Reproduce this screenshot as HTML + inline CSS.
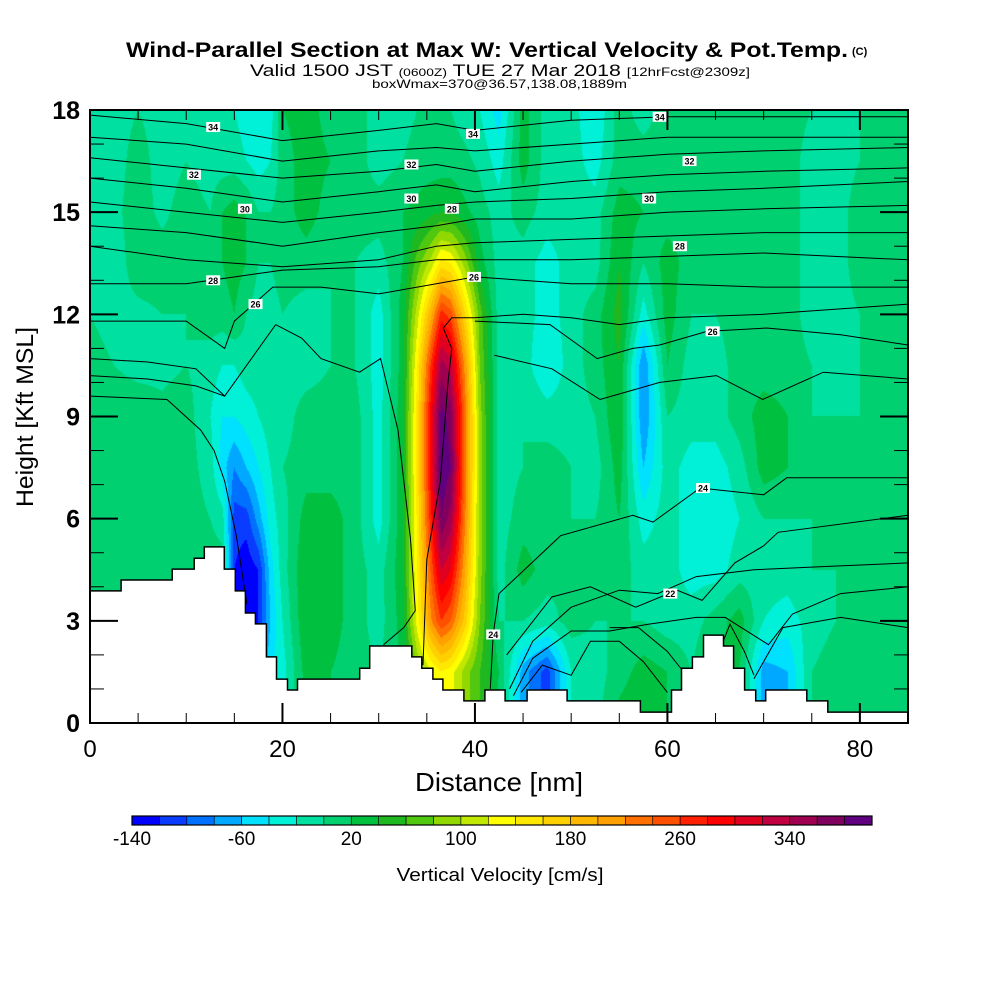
<!DOCTYPE html>
<html><head><meta charset="utf-8"><style>
html,body{margin:0;padding:0;background:#fff;}
#wrap{position:relative;width:1000px;height:1000px;overflow:hidden;background:#fff;}
#field{position:absolute;left:90px;top:110px;}
#ov{position:absolute;left:0;top:0;}
text{font-family:"Liberation Sans",sans-serif;}
</style></head><body>
<div id="wrap">
<canvas id="field" width="818" height="613"></canvas>
<svg id="ov" width="1000" height="1000">
<g>
<text x="126" y="57" font-size="21" font-weight="bold" textLength="722" lengthAdjust="spacingAndGlyphs">Wind-Parallel Section at Max W: Vertical Velocity &amp; Pot.Temp.</text>
<text x="852" y="55" font-size="11" font-weight="bold">(C)</text>
<text x="250" y="76" font-size="17" textLength="500" lengthAdjust="spacingAndGlyphs">Valid 1500 JST <tspan font-size="11">(0600Z)</tspan> TUE 27 Mar 2018 <tspan font-size="12">[12hrFcst@2309z]</tspan></text>
<text x="372" y="88" font-size="12" textLength="255" lengthAdjust="spacingAndGlyphs">boxWmax=370@36.57,138.08,1889m</text>
</g>
<g id="terrain"></g>
<g id="theta"></g>
<g id="labels"></g>
<rect x="90" y="110" width="818" height="613" fill="none" stroke="#000" stroke-width="2"/>
<g id="axes"></g>
<text transform="translate(33,417) rotate(-90)" text-anchor="middle" font-size="24" textLength="180" lengthAdjust="spacingAndGlyphs">Height [Kft MSL]</text>
<text x="499" y="791" text-anchor="middle" font-size="26" textLength="168" lengthAdjust="spacingAndGlyphs">Distance [nm]</text>
<g id="cbar"></g>
<text x="500" y="881" text-anchor="middle" font-size="18" textLength="207" lengthAdjust="spacingAndGlyphs">Vertical Velocity [cm/s]</text>
</svg>
</div>
<script>
// ---- data ----
const gridNm = [0,2.5,5,7.5,10,12.5,13.75,15,16.25,17.5,18.75,20,22.5,25,27.5,30,32.5,34,35.5,36.5,37.5,39,40.5,42.5,45,47.5,50,52.5,55,57.5,60,62.5,65,67.5,70,72.5,75,77.5,80,82.5,85];
const gridKft = [18,16.5,15,13.5,12,10.5,9,7.5,6,4.5,3,1.5,0];
// vertical velocity profiles (cm/s), one per gridNm column, top (18 kft) to bottom
const wCols = [
[-10,-10,-10,-10,0,5,10,10,10,10,10,10,10],
[-10,-10,-5,-10,-5,0,10,5,10,10,10,10,10],
[0,10,10,10,-5,-5,10,5,10,10,10,10,10],
[-10,-10,-5,10,0,-5,5,10,10,10,10,10,10],
[-10,0,10,10,0,0,10,10,10,10,10,10,10],
[-10,-10,0,10,10,-10,-20,-10,0,10,10,10,10],
[-10,-10,20,20,10,-20,-40,-50,-10,10,10,10,10],
[-20,-10,30,30,20,-20,-40,-80,-110,-120,-120,-120,-120],
[-30,-20,20,20,0,-10,-30,-60,-110,-135,-135,-135,-135],
[-40,-30,0,0,-10,-10,-20,-40,-70,-120,-120,-100,-100],
[-30,-20,0,0,-10,-10,-10,-20,-30,-50,-60,-40,-40],
[20,10,10,10,0,-10,-10,0,-10,-10,-20,-30,-30],
[30,30,30,10,-10,-10,10,10,30,40,40,30,30],
[10,20,10,0,0,0,10,10,30,30,30,20,20],
[10,10,10,0,0,0,10,10,10,10,10,10,10],
[-10,-10,10,-10,-30,-30,-30,-30,-30,-10,-10,0,0],
[-10,0,20,20,30,30,35,35,35,35,30,20,20],
[0,10,25,70,110,140,150,150,145,140,130,80,80],
[0,10,35,110,200,270,300,300,280,250,220,120,120],
[0,10,40,150,270,350,390,400,380,320,260,140,140],
[0,10,40,140,250,330,370,380,350,300,240,130,130],
[-10,5,25,90,160,210,230,230,220,200,170,90,90],
[-20,-5,10,30,70,80,90,90,90,90,80,60,60],
[-50,-30,-10,-10,-10,-10,-10,-10,-10,-10,0,20,10],
[30,30,10,-10,-10,-10,0,0,10,30,0,-70,-70],
[-10,-10,-10,-30,-30,-40,-10,10,10,10,-10,-110,-110],
[-10,-10,-10,-10,-10,-10,-10,0,0,0,10,-20,-20],
[-40,-30,-10,-10,10,10,0,-10,0,10,0,-10,-10],
[10,10,30,40,50,40,40,30,20,10,0,10,30],
[-10,10,20,0,-30,-80,-80,-60,-30,-10,0,30,40],
[10,10,10,30,30,20,0,-10,-10,-10,-10,20,20],
[0,0,10,10,0,-10,-10,-30,-30,-30,-10,0,0],
[0,0,10,10,0,-10,-10,-30,-35,-30,10,30,30],
[0,0,10,10,10,10,10,-10,-20,-10,30,20,20],
[10,10,10,10,10,10,30,30,0,-10,-20,-70,-70],
[10,10,10,10,10,10,20,20,0,-10,-30,-60,-60],
[0,-10,-10,-10,-10,0,0,0,0,0,-10,0,0],
[-10,-10,-10,-10,-10,-10,0,0,0,0,0,10,10],
[0,0,10,10,0,0,0,10,10,0,10,10,10],
[0,0,10,10,0,0,0,10,10,0,10,10,10],
[0,0,10,10,0,0,0,10,10,0,10,10,10]
];
const binColors = ["#0000ff","#0a3cff","#0070ff","#00a8ff","#00e0ff","#00f0d8","#00e0a0","#00d070","#00c040","#20b820","#50c810","#90d800","#c0e800","#ffff00","#ffe800","#ffd000","#ffb800","#ffa000","#ff7000","#ff5000","#ff2000","#ff0000","#e00020","#c00040","#a00050","#800060","#600080"];
const binMin = -140, binStep = 20;
const cbarTicks = [-140,-60,20,100,180,260,340];
// terrain: step start (nm) and height (kft)
const terrainNm = [0,3.23,8.54,10.83,11.88,13.96,15.10,16.15,17.19,18.33,19.38,20.52,21.56,28.02,29.06,33.44,34.48,35.63,36.67,38.85,41.04,43.13,45.42,49.58,57.19,60.42,61.46,62.60,63.75,65.83,66.88,68.02,69.17,70.21,74.48,76.67];
const terrainKft = [3.88,4.20,4.52,4.84,5.17,4.52,3.88,3.23,2.91,1.94,1.29,0.97,1.29,1.61,2.26,1.94,1.61,1.29,0.97,0.65,0.97,0.65,0.97,0.65,0.32,0.97,1.61,1.94,2.58,2.26,1.61,0.97,0.65,0.97,0.65,0.32];
// potential temperature contours
const F = [0,10,20,30,36,40,50,60,70,85];
const thetaNm = [F,F,F,F,F,F,F,F,
 [0,10,14,15,19,24,30,36,40,50,60,70,85],
 [36.7,37.6,40,45,50,55,60,70,85],
 [40,47.8,52.7,56.4,59.2,64.1,70.3,78,85],
 [42,48,53,59.2,65.1,69.9,76.2,85],
 [0,6,11,14,19.3,22,24,28,30.2,32,33.3,33.8,32.6,30.5],
 [0,6,11,13,14],
 [0,8,11.5,12.9,14,15.2,16.3],
 [36.7,37.6,37.2,36.4,35.0,34.6],
 [41.6,41.9,42.5,48.9,56.4,58.5,63.4,70,72.4,85],
 [43.3,48,52,56.7,61,63.6,67,70,71.5,85],
 [43.6,46,50,55,59,63,69,77,85],
 [44,46,50,54,58,63,66,70.5,73,78,85],
 [69,72,78,85],
 [44.8,47,50,52,55,57.5,60],
 [54,57,60,61.4],
 [65.8,66.5,68,69]
];
const thetaKft = [
 [17.85,17.6,17.1,17.4,17.6,17.4,17.7,17.8,17.8,17.8],
 [17.2,17.0,16.5,16.8,16.9,16.8,17.0,17.2,17.2,17.2],
 [16.6,16.3,16.0,16.2,16.4,16.2,16.5,16.7,16.8,16.9],
 [16.0,15.7,15.3,15.6,15.8,15.6,15.9,16.1,16.2,16.3],
 [15.3,15.0,14.7,15.0,15.2,15.3,15.4,15.6,15.7,15.9],
 [14.6,14.4,14.0,14.4,14.6,14.8,14.8,15.0,15.1,15.2],
 [14.0,13.6,13.4,13.6,14.0,14.1,14.2,14.3,14.4,14.4],
 [12.9,12.9,13.3,13.4,13.6,13.6,13.6,13.7,13.8,13.6],
 [11.8,11.8,11.0,11.8,12.8,12.8,12.6,12.9,13.1,12.9,12.9,12.8,12.8],
 [11.6,11.9,11.9,12.0,11.9,11.7,11.9,12.0,12.3],
 [11.8,11.7,10.7,11.0,11.1,11.5,11.6,11.4,11.1],
 [10.8,10.4,9.5,10.0,10.2,9.5,10.3,10.1],
 [10.7,10.6,10.4,9.6,11.7,11.3,10.7,10.3,10.7,8.6,5.4,3.3,2.8,2.3],
 [10.2,10.1,9.9,9.7,9.6],
 [9.6,9.5,8.6,8.0,7.1,5.5,3.5],
 [11.6,11.0,10.0,7.1,4.8,1.7],
 [1.0,2.6,3.8,5.5,6.1,5.9,6.9,6.7,7.2,7.2],
 [2.0,3.7,4.0,3.4,3.9,3.6,4.7,5.2,5.6,6.1],
 [1.0,2.4,3.4,3.9,3.8,4.3,4.5,4.6,4.7],
 [0.8,1.9,2.7,2.7,2.9,3.1,3.1,2.3,3.2,3.8,4.0],
 [1.3,2.8,3.1,2.8],
 [0.9,1.7,1.4,2.4,2.4,1.8,0.9],
 [2.8,2.8,2.1,1.6],
 [2.4,2.9,2.1,1.4]
];
const labelNm = [12.8,39.8,59.2,10.8,33.4,62.3,16.1,33.4,58.1,37.6,12.8,61.3,17.2,39.9,64.7,63.7,60.3,41.9];
const labelKft = [17.5,17.3,17.8,16.1,16.4,16.5,15.1,15.4,15.4,15.1,13.0,14.0,12.3,13.1,11.5,6.9,3.8,2.6];
const labelText = ["34","34","34","32","32","32","30","30","30","28","28","28","26","26","26","24","22","24"];
const xTicks = [0,20,40,60,80];
const yTicks = [0,3,6,9,12,15,18];

// ---- scales ----
const X0=90, X1=908, Y0=723, Y1=110, NMMAX=85, KMAX=18;
const sx = nm => X0 + nm*(X1-X0)/NMMAX;
const sy = k => Y0 - k*(Y0-Y1)/KMAX;
const NS='http://www.w3.org/2000/svg';
function mk(tag, parent){const e=document.createElementNS(NS,tag);parent.appendChild(e);return e;}

// ---- field ----
function hexRgb(h){return [parseInt(h.substr(1,2),16),parseInt(h.substr(3,2),16),parseInt(h.substr(5,2),16)];}
const rgbBins = binColors.map(hexRgb);
function sample(nm,k){
  let i=0; while(i<gridNm.length-2 && nm>gridNm[i+1]) i++;
  let tx=(nm-gridNm[i])/(gridNm[i+1]-gridNm[i]); tx=Math.max(0,Math.min(1,tx));
  let r=(KMAX-k)/1.5; let j=Math.min(Math.floor(r),gridKft.length-2); if(j<0)j=0;
  let ty=Math.max(0,Math.min(1,r-j));
  const a=wCols[i][j], b=wCols[i+1][j], c=wCols[i][j+1], d=wCols[i+1][j+1];
  return (a*(1-tx)+b*tx)*(1-ty)+(c*(1-tx)+d*tx)*ty;
}
(function(){
  const cv=document.getElementById('field'); const ctx=cv.getContext('2d');
  const W=cv.width,H=cv.height; const img=ctx.createImageData(W,H);
  for(let py=0;py<H;py++){const k=(Y0-(Y1+py+0.5))*KMAX/(Y0-Y1);
    for(let px=0;px<W;px++){const nm=(px+0.5)*NMMAX/(X1-X0);
      const v=sample(nm,k); let bi=Math.floor((v-binMin)/binStep); if(bi<0)bi=0; if(bi>26)bi=26;
      const c=rgbBins[bi]; const o=(py*W+px)*4; img.data[o]=c[0];img.data[o+1]=c[1];img.data[o+2]=c[2];img.data[o+3]=255;}}
  ctx.putImageData(img,0,0);
})();

// ---- terrain ----
(function(){
  const g=document.getElementById('terrain');
  let d='M'+sx(0)+','+sy(0);
  for(let i=0;i<terrainNm.length;i++){
    const xe = i<terrainNm.length-1 ? terrainNm[i+1] : NMMAX;
    d+=' L'+sx(terrainNm[i]).toFixed(1)+','+sy(terrainKft[i]).toFixed(1)+' L'+sx(xe).toFixed(1)+','+sy(terrainKft[i]).toFixed(1);
  }
  d+=' L'+sx(NMMAX)+','+sy(0)+' Z';
  const p=mk('path',g);
  
  
  p.setAttribute('d',d); p.setAttribute('fill','#fff'); p.setAttribute('stroke','#000'); p.setAttribute('stroke-width','1.5');
})();

// ---- theta contours ----
(function(){
  const g=document.getElementById('theta');
  for(let l=0;l<thetaNm.length;l++){
    const pts=thetaNm[l].map((n,i)=>sx(n).toFixed(1)+','+sy(thetaKft[l][i]).toFixed(1)).join(' ');
    const pl=mk('polyline',g);
    
    
    pl.setAttribute('points',pts); pl.setAttribute('fill','none'); pl.setAttribute('stroke','#000'); pl.setAttribute('stroke-width','1');
  }
  const lg=document.getElementById('labels');
  for(let i=0;i<labelText.length;i++){
    const r=mk('rect',lg);
    
    
    r.setAttribute('x',sx(labelNm[i])-7); r.setAttribute('y',sy(labelKft[i])-5); r.setAttribute('width',14); r.setAttribute('height',10); r.setAttribute('fill','#fff');
    const t=mk('text',lg);
    
    
    t.setAttribute('x',sx(labelNm[i])); t.setAttribute('y',sy(labelKft[i])+3.5); t.setAttribute('text-anchor','middle'); t.setAttribute('font-size','9'); t.setAttribute('font-weight','bold');
    t.textContent=labelText[i];
  }
})();

// ---- axes ----
(function(){
  const g=document.getElementById('axes');
  function line(x1,y1,x2,y2,w){const l=mk('line',g);
    
    
    l.setAttribute('x1',x1);l.setAttribute('y1',y1);l.setAttribute('x2',x2);l.setAttribute('y2',y2);l.setAttribute('stroke','#000');l.setAttribute('stroke-width',w);}
  for(let n=0;n<=NMMAX;n+=5){const major=n%20===0;const L=major?20:10;const x=sx(n);
    line(x,Y0,x,Y0-L,major?2:1); line(x,Y1,x,Y1+L,major?2:1);}
  for(let k=0;k<=KMAX;k+=1){const major=k%3===0;const L=major?28:14;const y=sy(k);
    line(X0,y,X0+L,y,major?2:1); line(X1,y,X1-L,y,major?2:1);}
  xTicks.forEach(v=>{const t=mk('text',g);
    
    
    t.setAttribute('x',sx(v));t.setAttribute('y',757);t.setAttribute('text-anchor','middle');t.setAttribute('font-size','24');t.textContent=v;});
  yTicks.forEach(v=>{const t=mk('text',g);
    
    
    t.setAttribute('x',80);t.setAttribute('y',sy(v)+9);t.setAttribute('text-anchor','end');t.setAttribute('font-size','25');t.setAttribute('font-weight','bold');t.textContent=v;});
})();

// ---- colorbar ----
(function(){
  const g=document.getElementById('cbar');
  const cx0=132,cx1=872,cy=816,ch=9; const bw=(cx1-cx0)/binColors.length;
  binColors.forEach((c,i)=>{const r=mk('rect',g);
    
    
    r.setAttribute('x',cx0+i*bw);r.setAttribute('y',cy);r.setAttribute('width',bw);r.setAttribute('height',ch);r.setAttribute('fill',c);r.setAttribute('stroke','#000');r.setAttribute('stroke-width','0.6');});
  const fr=mk('rect',g);
  
  
  fr.setAttribute('x',cx0);fr.setAttribute('y',cy);fr.setAttribute('width',cx1-cx0);fr.setAttribute('height',ch);fr.setAttribute('fill','none');fr.setAttribute('stroke','#000');fr.setAttribute('stroke-width','1.2');
  cbarTicks.forEach(v=>{const t=mk('text',g);
    
    
    const x=cx0+(v-binMin)/binStep*bw;
    t.setAttribute('x',x);t.setAttribute('y',845);t.setAttribute('text-anchor','middle');t.setAttribute('font-size','19');t.textContent=v;});
})();
</script>
</body></html>
